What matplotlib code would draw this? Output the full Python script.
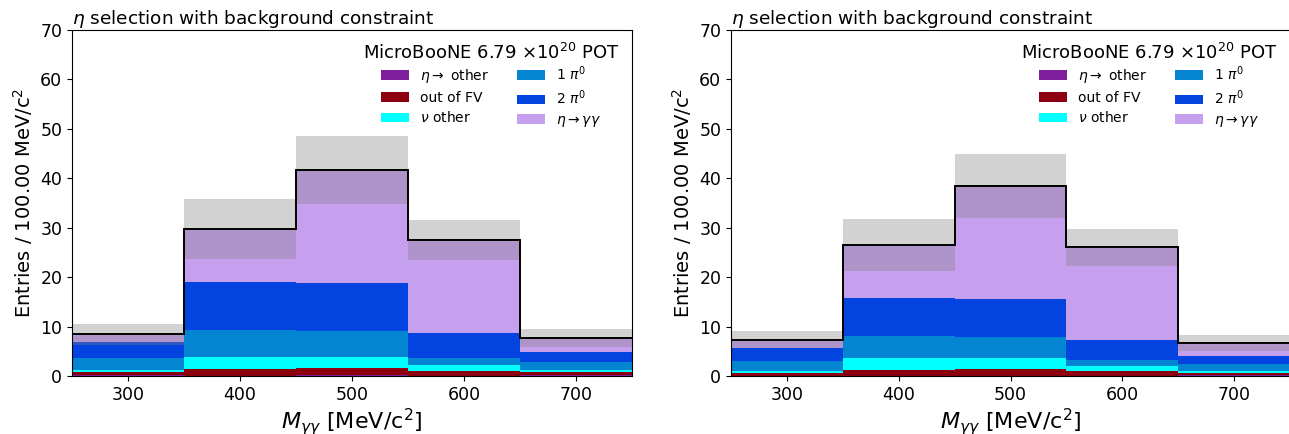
import numpy as np
import matplotlib
matplotlib.use("Agg")
import matplotlib.pyplot as plt

# ------------------------------------------------------------
# data (stack components per bin)
# ------------------------------------------------------------
edges = [250, 350, 450, 550, 650, 750]

labels = [r"$\eta \rightarrow$ other", "out of FV", r"$\nu$ other",
          r"1 $\pi^0$", r"2 $\pi^0$", r"$\eta \rightarrow \gamma\gamma$"]
colors = ["#7e1e9c", "#8c000f", "#00ffff", "#0485d1", "#0343df", "#c79fef"]

# left panel
left_eta_other = [0.13, 0.05, 0.30, 0.10, 0.15]
left_out_fv = [0.61, 1.37, 1.39, 0.91, 0.66]
left_nu_other = [0.54, 2.42, 2.15, 1.22, 0.47]
left_1pi0 = [2.43, 5.46, 5.26, 1.41, 1.55]
left_2pi0 = [3.09, 9.70, 9.70, 5.06, 2.03]
left_eta_gg = [1.63, 10.74, 22.80, 18.80, 2.76]
left_err = [2.1, 6.07, 6.9, 4.05, 1.8]

# right panel
right_eta_other = [0.10, 0.05, 0.10, 0.10, 0.15]
right_out_fv = [0.44, 1.16, 1.32, 0.91, 0.45]
right_nu_other = [0.47, 2.43, 2.22, 1.01, 0.41]
right_1pi0 = [2.02, 4.51, 4.31, 1.22, 1.48]
right_2pi0 = [2.57, 7.63, 7.63, 4.04, 1.56]
right_eta_gg = [1.75, 10.72, 22.86, 18.75, 2.69]
right_err = [1.75, 5.23, 6.4, 3.75, 1.6]

title = r"$\eta$ selection with background constraint"
leg_title = r"MicroBooNE 6.79 $\times 10^{20}$ POT"


def draw_panel(ax, comps, err):
    edges_arr = np.array(edges, dtype=float)
    bottom = np.zeros(len(edges) - 1)
    for vals, lab, col in zip(comps, labels, colors):
        vals = np.array(vals)
        ax.stairs(bottom + vals, edges_arr, baseline=bottom, fill=True,
                  color=col, label=lab)
        bottom = bottom + vals
    # systematic band: grey overlay on top of the stack
    err = np.array(err)
    ax.stairs(bottom + err, edges_arr, baseline=bottom - err, fill=True,
              color="grey", alpha=0.35, linewidth=0)
    ax.stairs(bottom, edges_arr, baseline=None, color="black", linewidth=1.4)

    ax.set_xlim(250, 750)
    ax.set_ylim(0, 70)
    ax.set_xticks([300, 400, 500, 600, 700])
    ax.tick_params(labelsize=12.5)
    ax.set_xlabel(r"$M_{\gamma\gamma}$ [MeV/c$^2$]", fontsize=16, labelpad=2)
    ax.set_ylabel(r"Entries / 100.00 MeV/c$^2$", fontsize=14)
    ax.set_title(title, loc="left", fontsize=13.3, pad=4)
    leg = ax.legend(ncol=2, frameon=False, loc="upper right", fontsize=10,
                    title=leg_title, title_fontsize=13, columnspacing=2.0,
                    labelspacing=0.4)
    leg._legend_box.sep = 1.4


fig = plt.figure(figsize=(12.89, 4.34), dpi=100)
ax1 = fig.add_axes([72 / 1289, 58 / 434, 560 / 1289, 346 / 434])
ax2 = fig.add_axes([731 / 1289, 58 / 434, 559 / 1289, 346 / 434])

draw_panel(ax1, [left_eta_other, left_out_fv, left_nu_other,
                 left_1pi0, left_2pi0, left_eta_gg], left_err)
draw_panel(ax2, [right_eta_other, right_out_fv, right_nu_other,
                 right_1pi0, right_2pi0, right_eta_gg], right_err)

fig.savefig("out.png", dpi=100)
